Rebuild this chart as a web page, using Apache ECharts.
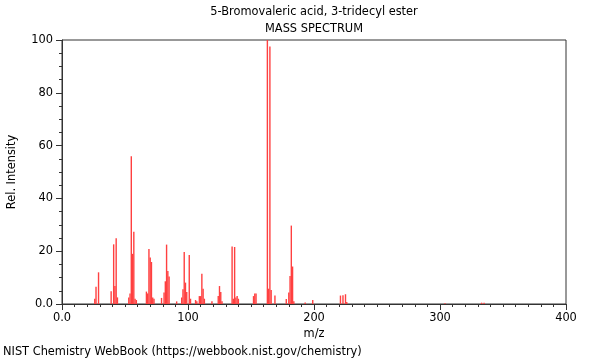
<!DOCTYPE html>
<html><head><meta charset="utf-8">
<script src="https://cdn.jsdelivr.net/npm/echarts@6/dist/echarts.min.js"></script>
<style>html,body{margin:0;padding:0;background:#fff}#c{width:600px;height:360px}</style>
</head><body><div id="c"></div>
<script>
const titleText = "5-Bromovaleric acid, 3-tridecyl ester";
const subTitle = "MASS SPECTRUM";
const xLabel = "m/z";
const yLabel = "Rel. Intensity";
const footer = "NIST Chemistry WebBook (https://webbook.nist.gov/chemistry)";
const mz = [26,27,29,39,41,42,43,44,53,54,55,56,57,58,59,67,68,69,70,71,72,73,79,81,82,83,84,85,91,95,96,97,98,99,101,102,106,107,109,110,111,112,113,119,124,125,126,127,135,136,137,138,139,140,152,153,154,163,164,165,166,169,178,180,181,182,183,184,193,199,221,223,225,226,304,333,335];
const intensity = [2,6.5,12,4.8,22.6,6.8,24.9,2.5,2.5,4,56,19,27.4,2,1.5,4.7,4,20.8,17.6,15.9,2.5,2,2.3,4.4,8.6,22.5,12.5,10.4,1,2.5,5.6,19.7,8.1,4.5,18.6,2,1.5,1,3,3,11.5,5.8,2,1,3,6.8,4.5,1,21.8,2,21.6,2.5,3,2,3,4,4,100,5.8,97.5,5.3,3.2,1.9,4.4,10.6,29.7,14.2,1,0.6,1.5,3.2,3.3,3.7,0.8,0.3,0.5,0.5];
const xTicks = [0,100,200,300,400];
const yTicks = [0,20,40,60,80,100];

const chart = echarts.init(document.getElementById('c'));
const font = 'DejaVu Sans';
const fmt = v => (v === 0 ? '0.0' : String(v));
chart.setOption({
  animation:false,
  textStyle:{fontFamily:font},
  grid:{left:62,right:34,top:40,bottom:56,containLabel:false,outerBoundsMode:'none',show:true,borderColor:'#333',borderWidth:1,backgroundColor:'transparent'},
  graphic:[
    {type:'text',x:314,y:7,style:{text:titleText,font:'11.4px "DejaVu Sans"',fill:'#000',textAlign:'center'}},
    {type:'text',x:314,y:24,style:{text:subTitle,font:'11.4px "DejaVu Sans"',fill:'#000',textAlign:'center'}},
    {type:'text',x:3,y:347,style:{text:footer,font:'11.4px "DejaVu Sans"',fill:'#000',textAlign:'left'}}
  ],
  xAxis:{type:'value',min:xTicks[0],max:xTicks[xTicks.length-1],interval:100,
    name:xLabel,nameLocation:'middle',nameGap:23,nameTextStyle:{fontSize:11.4,color:'#000',fontFamily:font},
    axisLine:{show:true,lineStyle:{color:'#333'}},
    axisTick:{show:true,length:6,lineStyle:{color:'#333'}},
    minorTick:{show:true,splitNumber:10,length:3,lineStyle:{color:'#333'}},
    splitLine:{show:false},
    axisLabel:{formatter:fmt,fontSize:11.4,color:'#000',margin:9,fontFamily:font}},
  yAxis:{type:'value',min:yTicks[0],max:yTicks[yTicks.length-1],interval:20,
    name:yLabel,nameLocation:'middle',nameGap:44,nameTextStyle:{fontSize:11.4,color:'#000',fontFamily:font},
    axisLine:{show:true,lineStyle:{color:'#333'}},
    axisTick:{show:true,length:6,lineStyle:{color:'#333'}},
    minorTick:{show:true,splitNumber:4,length:3,lineStyle:{color:'#333'}},
    splitLine:{show:false},
    axisLabel:{formatter:fmt,fontSize:11.4,color:'#000',margin:9,fontFamily:font}},
  series:[{type:'bar',barWidth:1.4,itemStyle:{color:'#ff4040'},
    data:mz.map((m,i)=>[m,intensity[i]])}]
});
</script></body></html>
